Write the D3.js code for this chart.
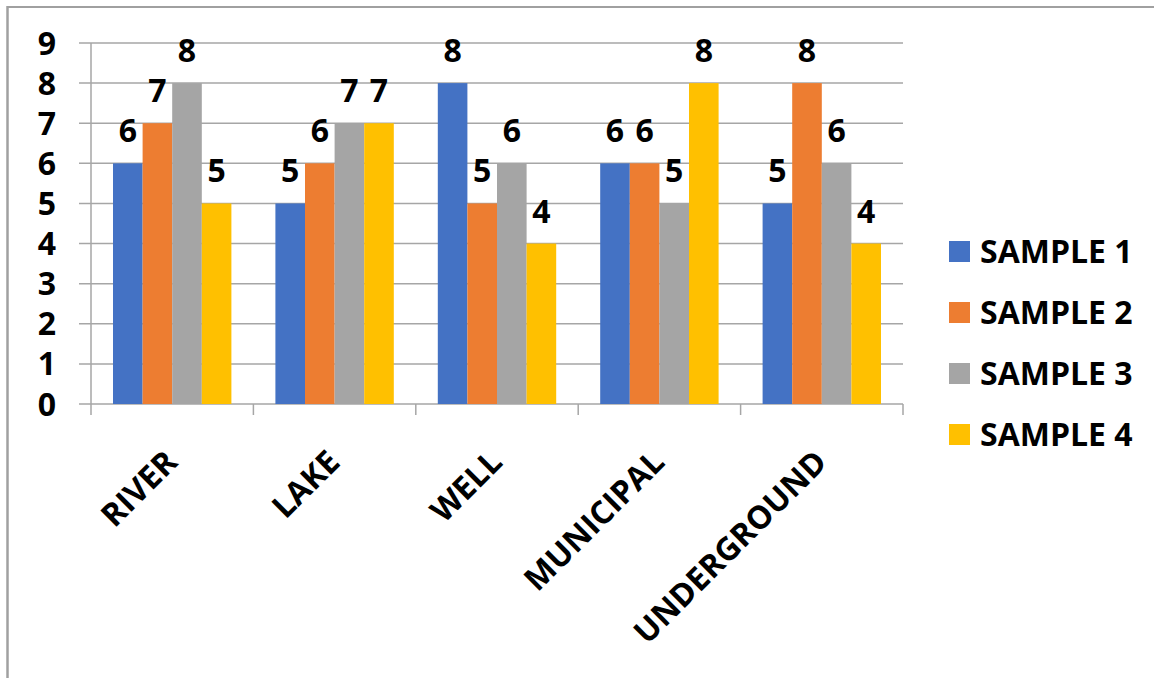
<!DOCTYPE html>
<html><head><meta charset="utf-8">
<script src="https://cdn.jsdelivr.net/npm/d3@7"></script>
<style>html,body{margin:0;padding:0;background:#fff;}svg{display:block;}</style>
</head><body>
<svg id="c" width="1154" height="678"></svg>
<script>
const categories = ["RIVER","LAKE","WELL","MUNICIPAL","UNDERGROUND"];
const seriesNames = ["SAMPLE 1","SAMPLE 2","SAMPLE 3","SAMPLE 4"];
const sample1 = [6,5,8,6,5];
const sample2 = [7,6,5,6,8];
const sample3 = [8,7,6,5,6];
const sample4 = [5,7,4,8,4];
const yTicks = [0,1,2,3,4,5,6,7,8,9];
const colors = ["#4472C4","#ED7D31","#A5A5A5","#FFC000"];
const series = [sample1,sample2,sample3,sample4];

(function(){
const FONT = "'Open Sans', sans-serif";
const FS = 32;
const svg = d3.select("#c");
const gridColor = "#a6a6a6";

// outer border (top and left)
svg.append("line").attr("x1",7.5).attr("x2",1154).attr("y1",7).attr("y2",7).attr("stroke","#a0a0a0").attr("stroke-width",2);
svg.append("line").attr("x1",7.5).attr("x2",7.5).attr("y1",6).attr("y2",678).attr("stroke","#a0a0a0").attr("stroke-width",2.5);

const pL = 91, pR = 903, pT = 43, pB = 404;
const x0 = d3.scaleBand().domain(categories).range([pL,pR]).paddingInner(0).paddingOuter(0);
const x1 = d3.scaleBand().domain(d3.range(series.length)).range([22, x0.bandwidth()-22]).padding(0);
const y = d3.scaleLinear().domain([0,9]).range([pB,pT]);

// gridlines + left ticks
svg.append("g").selectAll("line").data(yTicks).join("line")
  .attr("x1",79).attr("x2",pR).attr("y1",d=>y(d)).attr("y2",d=>y(d))
  .attr("stroke",gridColor).attr("stroke-width",1.5);
// y axis line
svg.append("line").attr("x1",pL).attr("x2",pL).attr("y1",pT).attr("y2",pB+11)
  .attr("stroke",gridColor).attr("stroke-width",1.5);
// category boundary ticks
const bounds = categories.map(c=>x0(c)+x0.bandwidth());
svg.append("g").selectAll("line").data(bounds).join("line")
  .attr("x1",d=>d).attr("x2",d=>d)
  .attr("y1",pB).attr("y2",pB+11)
  .attr("stroke",gridColor).attr("stroke-width",1.5);

// y tick labels
svg.append("g").selectAll("text").data(yTicks).join("text")
  .attr("x",56).attr("y",d=>y(d)).attr("dy","0.36em")
  .attr("text-anchor","end").attr("font-family",FONT).attr("font-weight",700)
  .attr("font-size",FS).attr("fill","#000").text(d=>d);

// bars
const groups = svg.append("g").selectAll("g").data(categories).join("g")
  .attr("transform",d=>`translate(${x0(d)},0)`);
groups.selectAll("rect").data((c,ci)=>series.map((s,si)=>({si,v:s[ci]}))).join("rect")
  .attr("x",d=>x1(d.si)).attr("width",x1.bandwidth())
  .attr("y",d=>y(d.v)).attr("height",d=>y(0)-y(d.v))
  .attr("fill",d=>colors[d.si]);
groups.selectAll("text").data((c,ci)=>series.map((s,si)=>({si,v:s[ci]}))).join("text")
  .attr("x",d=>x1(d.si)+x1.bandwidth()/2).attr("y",d=>y(d.v)-21)
  .attr("text-anchor","middle").attr("font-family",FONT).attr("font-weight",700)
  .attr("font-size",FS).attr("fill","#000").text(d=>d.v);

// category labels
svg.append("g").selectAll("text").data(categories).join("text")
  .attr("transform",d=>`translate(${x0(d)+x0.bandwidth()/2+7},464) rotate(-45)`)
  .attr("text-anchor","end").attr("font-family",FONT).attr("font-weight",700)
  .attr("font-size",FS).attr("fill","#000").text(d=>d);

// legend
const lg = svg.append("g").selectAll("g").data(seriesNames).join("g")
  .attr("transform",(d,i)=>`translate(949,${241+i*61})`);
lg.append("rect").attr("width",21).attr("height",21).attr("fill",(d,i)=>colors[i]);
lg.append("text").attr("x",31).attr("y",21.5).attr("font-family",FONT).attr("font-weight",700)
  .attr("font-size",FS).attr("fill","#000").text(d=>d);
})();
</script>
</body></html>
